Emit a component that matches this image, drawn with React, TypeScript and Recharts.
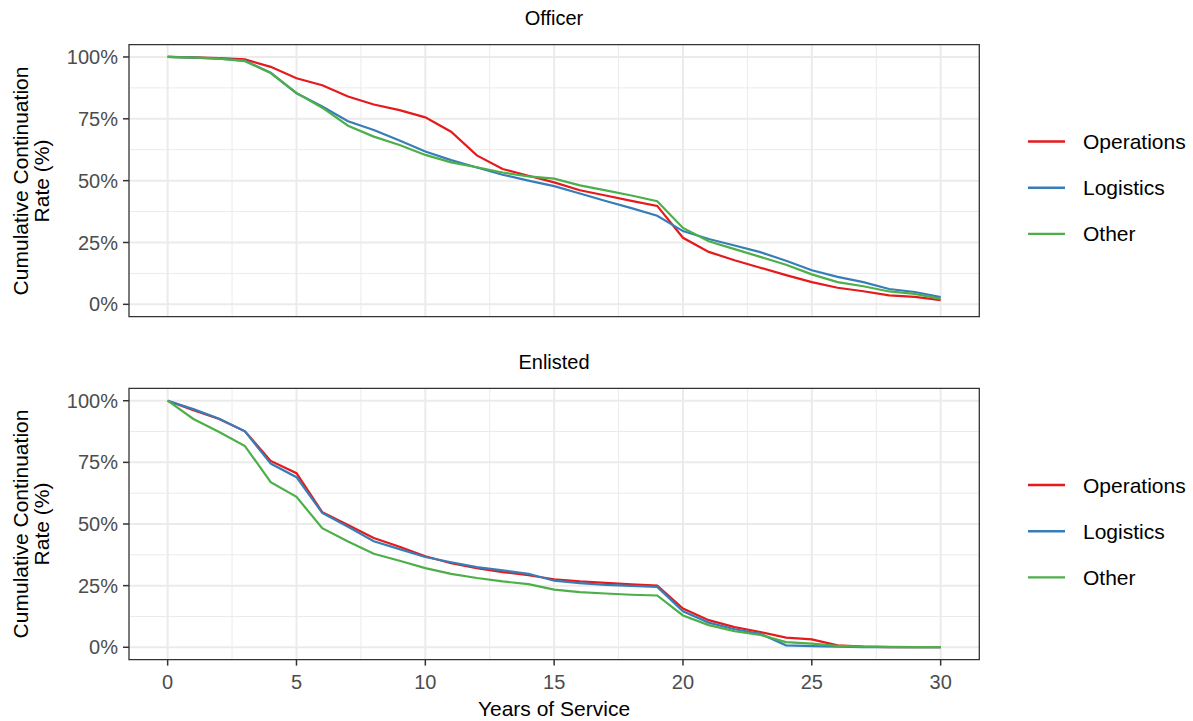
import React from 'react';
import { LineChart, Line, XAxis, YAxis, CartesianGrid, ReferenceArea } from 'recharts';

// years of service (x categories)
const years = [0, 1, 2, 3, 4, 5, 6, 7, 8, 9, 10, 11, 12, 13, 14, 15, 16, 17, 18, 19, 20, 21, 22, 23, 24, 25, 26, 27, 28, 29, 30];

// Officer panel, cumulative continuation rate (%)
const officerOps = [100, 99.8, 99.5, 99, 96, 91.4, 88.6, 84, 80.8, 78.5, 75.6, 69.8, 60.2, 54.7, 52, 49.3, 46.1, 44, 41.8, 39.8, 26.9, 21.2, 17.8, 14.8, 11.8, 9, 6.7, 5.3, 3.6, 3, 1.7];
const officerLog = [100, 99.7, 99.3, 98.5, 93.6, 85.3, 80, 74, 70.5, 66.2, 61.8, 58.3, 55.3, 52.4, 50, 47.8, 44.8, 41.8, 38.9, 35.8, 29.6, 26.4, 23.8, 21.1, 17.6, 13.8, 11.1, 9, 6.2, 5, 2.9];
const officerOther = [100, 99.7, 99.3, 98.3, 93.5, 85.5, 79.5, 72.2, 67.8, 64.4, 60.4, 57.4, 55.4, 53.3, 51.7, 50.8, 48.1, 46.1, 44, 41.7, 30.9, 25.5, 22.3, 19.2, 16, 12.1, 9, 7.3, 5.2, 4.2, 2.2];

// Enlisted panel
const enlistedOps = [100, 96.2, 92.6, 87.6, 75.6, 70.6, 54.8, 49.6, 44.3, 40.8, 36.9, 34.1, 32.1, 30.5, 29.2, 27.6, 26.7, 26.1, 25.5, 25, 15.7, 11, 8.2, 6.2, 3.9, 3.2, 0.8, 0.3, 0.1, 0.1, 0];
const enlistedLog = [100, 96.6, 92.7, 87.6, 74.5, 69, 54.5, 48.9, 43, 39.8, 36.6, 34.5, 32.5, 31.2, 29.8, 27, 26, 25.3, 24.9, 24.5, 14.6, 10, 7.3, 5.5, 0.8, 0.5, 0.3, 0.1, 0.1, 0, 0];
const enlistedOther = [100, 92.6, 87.3, 81.6, 67, 61, 48.3, 42.9, 37.9, 35.1, 32.1, 29.8, 28.1, 26.7, 25.6, 23.4, 22.4, 21.8, 21.3, 21, 12.9, 9, 6.5, 5, 2.1, 1.5, 0.6, 0.3, 0.2, 0.1, 0.1];

const seriesNames = ['Operations', 'Logistics', 'Other'];
const seriesColors = ['#E41A1C', '#377EB8', '#4DAF4A'];

const xTicks = [0, 5, 10, 15, 20, 25, 30];
const xMinor = [2.5, 7.5, 12.5, 17.5, 22.5, 27.5];
const yTicks = [0, 25, 50, 75, 100];
const yMinor = [12.5, 37.5, 62.5, 87.5];

const FONT = '"Liberation Sans", Arial, Helvetica, sans-serif';

const buildRows = (a: number[], b: number[], c: number[]) =>
  years.map((y, i) => ({ year: y, Operations: a[i], Logistics: b[i], Other: c[i] }));

const officerData = buildRows(officerOps, officerLog, officerOther);
const enlistedData = buildRows(enlistedOps, enlistedLog, enlistedOther);

interface PanelProps {
  data: any[];
  height: number;
  margin: { top: number; right: number; bottom: number; left: number };
  showX: boolean;
}

const Panel: React.FC<PanelProps> = ({ data, height, margin, showX }) => (
  <LineChart width={1193} height={height} data={data} margin={margin}>
    <CartesianGrid horizontalValues={yMinor} verticalValues={xMinor} stroke="#ebebeb" strokeWidth={1} />
    <CartesianGrid horizontalValues={yTicks} verticalValues={xTicks} stroke="#ebebeb" strokeWidth={2} />
    <XAxis
      dataKey="year"
      type="number"
      domain={[-1.5, 31.5]}
      ticks={xTicks}
      hide={!showX}
      height={30}
      axisLine={false}
      tickSize={6}
      tickMargin={9}
      tickLine={{ stroke: '#333333', strokeWidth: 1.5 }}
      tick={{ fill: '#4d4d4d', fontSize: 20, fontFamily: FONT }}
    />
    <YAxis
      type="number"
      domain={[-5, 105]}
      ticks={yTicks}
      width={60}
      axisLine={false}
      tickSize={6}
      tickMargin={5}
      tickLine={{ stroke: '#333333', strokeWidth: 1.5 }}
      tick={{ fill: '#4d4d4d', fontSize: 20, fontFamily: FONT }}
      tickFormatter={(v) => `${v}%`}
    />
    {seriesNames.map((name, i) => (
      <Line
        key={name}
        type="linear"
        dataKey={name}
        stroke={seriesColors[i]}
        strokeWidth={2.2}
        dot={false}
        isAnimationActive={false}
      />
    ))}
    <ReferenceArea x1={-1.5} x2={31.5} y1={-5} y2={105} fill="none" stroke="#333333" strokeWidth={1.3} />
  </LineChart>
);

const Legend: React.FC<{ top: number }> = ({ top }) => (
  <g>
    {seriesNames.map((name, i) => (
      <g key={name}>
        <line x1={1028} x2={1065} y1={top + i * 46.2} y2={top + i * 46.2} stroke={seriesColors[i]} strokeWidth={2.4} />
        <text x={1083} y={top + i * 46.2} dominantBaseline="central" fontSize={21} fill="#000">
          {name}
        </text>
      </g>
    ))}
  </g>
);

const YTitle: React.FC<{ cy: number }> = ({ cy }) => (
  <g fontSize={21} fill="#000" textAnchor="middle">
    <text transform={`translate(20.5, ${cy}) rotate(-90)`} dominantBaseline="central">Cumulative Continuation</text>
    <text transform={`translate(41.5, ${cy}) rotate(-90)`} dominantBaseline="central">Rate (%)</text>
  </g>
);

export default function App() {
  return (
    <div style={{ position: 'absolute', left: 0, top: 0, width: 1193, height: 721, background: '#fff', fontFamily: FONT }}>
      <div style={{ position: 'absolute', left: 0, top: 0 }}>
        <Panel data={officerData} height={345} showX={false} margin={{ top: 44.6, right: 213.7, bottom: 28.3, left: 69 }} />
      </div>
      <div style={{ position: 'absolute', left: 0, top: 345 }}>
        <Panel data={enlistedData} height={376} showX={true} margin={{ top: 43.4, right: 213.7, bottom: 31.4, left: 69 }} />
      </div>
      <svg width={1193} height={721} style={{ position: 'absolute', left: 0, top: 0, pointerEvents: 'none', fontFamily: FONT }}>
        <text x={554} y={18} textAnchor="middle" dominantBaseline="central" fontSize={20}>Officer</text>
        <text x={554} y={362} textAnchor="middle" dominantBaseline="central" fontSize={20}>Enlisted</text>
        <YTitle cy={181} />
        <YTitle cy={524} />
        <text x={554} y={716} textAnchor="middle" fontSize={21}>Years of Service</text>
        <Legend top={141.5} />
        <Legend top={485} />
      </svg>
    </div>
  );
}
